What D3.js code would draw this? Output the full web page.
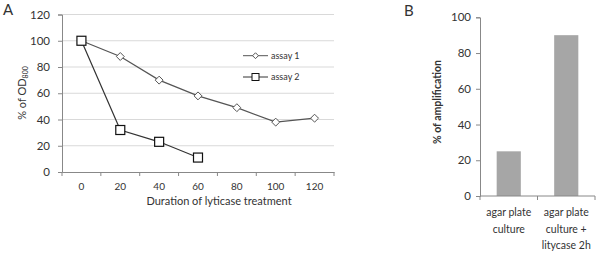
<!DOCTYPE html>
<html>
<head>
<meta charset="utf-8">
<script src="https://cdn.jsdelivr.net/npm/d3@7"></script>
<style>
	body { margin: 0; background: #fff; }
	text { font-family: Lato, "Open Sans", sans-serif; fill: #333; }
</style>
</head>
<body>
<svg id="chart" width="600" height="253"></svg>
<script>
/**
 * Data.
 */
var durations = ["0", "20", "40", "60", "80", "100", "120"];
var assay1 = [100, 88, 70, 58, 49, 38, 41];
var assay2 = [100, 32, 23, 11];
var yTicksA = [0, 20, 40, 60, 80, 100, 120];

var cultures = [["agar plate", "culture"], ["agar plate", "culture +", "litycase 2h"]];
var amplification = [25, 90];
var yTicksB = [0, 20, 40, 60, 80, 100];

var svg = d3.select("#chart");

// ---- panel A: line chart ----
{
	var x = d3.scaleBand().domain(durations).range([62, 334]);
	var y = d3.scaleLinear().domain([0, 120]).range([172, 14.5]);

	var g = svg.append("g");

	// gridlines
	g.selectAll(".grid")
		.data(yTicksA.slice(1))
		.enter().append("line")
		.attr("x1", 62).attr("x2", 334)
		.attr("y1", d => y(d)).attr("y2", d => y(d))
		.attr("stroke", "#d9d9d9").attr("stroke-width", 1);

	var yAxis = g.append("g")
		.attr("transform", "translate(62,0)")
		.call(d3.axisLeft(y).tickValues(yTicksA).tickSize(4).tickPadding(8));
	yAxis.select(".domain").attr("stroke", "#888");
	yAxis.selectAll(".tick line").attr("stroke", "#888");
	yAxis.selectAll("text").style("font-size", "11.5px");

	var xAxis = g.append("g")
		.attr("transform", "translate(0,172)")
		.call(d3.axisBottom(x).tickSize(0).tickPadding(11));
	xAxis.select(".domain").attr("stroke", "#888");
	xAxis.selectAll("text").style("font-size", "10px");
	// category boundary ticks
	xAxis.selectAll(".bnd")
		.data(durations.concat(["end"]))
		.enter().append("line")
		.attr("x1", (d, i) => 62 + i * x.bandwidth())
		.attr("x2", (d, i) => 62 + i * x.bandwidth())
		.attr("y1", 0).attr("y2", 4)
		.attr("stroke", "#888");

	var line = d3.line()
		.x((d, i) => x(durations[i]) + x.bandwidth() / 2)
		.y(d => y(d));

	g.append("path").datum(assay1)
		.attr("d", line).attr("fill", "none")
		.attr("stroke", "#555").attr("stroke-width", 1.2);
	g.append("path").datum(assay2)
		.attr("d", line).attr("fill", "none")
		.attr("stroke", "#333").attr("stroke-width", 1.2);

	var diamond = d3.symbol().type(d3.symbolDiamond2).size(40);
	g.selectAll(".m1")
		.data(assay1)
		.enter().append("path")
		.attr("d", diamond)
		.attr("transform", (d, i) => "translate(" + (x(durations[i]) + x.bandwidth() / 2) + "," + y(d) + ")")
		.attr("fill", "#fff").attr("stroke", "#555").attr("stroke-width", 1);

	g.selectAll(".m2")
		.data(assay2)
		.enter().append("rect")
		.attr("x", (d, i) => x(durations[i]) + x.bandwidth() / 2 - 4.5)
		.attr("y", d => y(d) - 4.5)
		.attr("width", 9).attr("height", 9)
		.attr("fill", "#fff").attr("stroke", "#111").attr("stroke-width", 1.2);

	// legend
	var lg = g.append("g");
	lg.append("line").attr("x1", 243).attr("x2", 268).attr("y1", 55.7).attr("y2", 55.7).attr("stroke", "#555");
	lg.append("path").attr("d", d3.symbol().type(d3.symbolDiamond2).size(22))
		.attr("transform", "translate(255.5,55.7)").attr("fill", "#fff").attr("stroke", "#555");
	lg.append("text").attr("x", 271).attr("y", 59).style("font-size", "9px").text("assay 1");
	lg.append("line").attr("x1", 243).attr("x2", 268).attr("y1", 77).attr("y2", 77).attr("stroke", "#333");
	lg.append("rect").attr("x", 252).attr("y", 73.5).attr("width", 7).attr("height", 7)
		.attr("fill", "#fff").attr("stroke", "#111");
	lg.append("text").attr("x", 271).attr("y", 80.3).style("font-size", "9px").text("assay 2");

	g.append("text")
		.attr("x", 219).attr("y", 205)
		.attr("text-anchor", "middle").style("font-size", "11px")
		.text("Duration of lyticase treatment");

	var yt = g.append("text")
		.attr("transform", "translate(26,93) rotate(-90)")
		.attr("text-anchor", "middle").style("font-size", "11px");
	yt.append("tspan").text("% of OD");
	yt.append("tspan").attr("dy", 2).style("font-size", "7px").text("800");

	g.append("text").attr("x", 3).attr("y", 14.5).style("font-size", "15px").text("A");
}

// ---- panel B: bar chart ----
{
	var xb = d3.scaleBand().domain(d3.range(cultures.length)).range([480, 595]);
	var yb = d3.scaleLinear().domain([0, 100]).range([196, 17.3]);

	var gb = svg.append("g");

	var ybAxis = gb.append("g")
		.attr("transform", "translate(480,0)")
		.call(d3.axisLeft(yb).tickValues(yTicksB).tickSize(4).tickPadding(5));
	ybAxis.select(".domain").attr("stroke", "#888");
	ybAxis.selectAll(".tick line").attr("stroke", "#888");
	ybAxis.selectAll("text").style("font-size", "11.5px");

	gb.selectAll(".bar")
		.data(amplification)
		.enter().append("rect")
		.attr("x", (d, i) => xb(i) + xb.bandwidth() * 0.29)
		.attr("width", xb.bandwidth() * 0.42)
		.attr("y", d => yb(d))
		.attr("height", d => yb(0) - yb(d))
		.attr("fill", "#a6a6a6");

	gb.append("line").attr("x1", 480).attr("x2", 595).attr("y1", 196).attr("y2", 196).attr("stroke", "#888");
	gb.selectAll(".bt")
		.data(d3.range(cultures.length + 1))
		.enter().append("line")
		.attr("x1", d => 480 + d * xb.bandwidth()).attr("x2", d => 480 + d * xb.bandwidth())
		.attr("y1", 196).attr("y2", 200).attr("stroke", "#888");

	gb.selectAll(".cl")
		.data(cultures)
		.enter().append("text")
		.attr("text-anchor", "middle").style("font-size", "10.5px")
		.each(function (d, i) {
			var t = d3.select(this);
			d.forEach(function (s, j) {
				t.append("tspan")
					.attr("x", xb(i) + xb.bandwidth() / 2)
					.attr("y", 216 + j * 16.5)
					.text(s);
			});
		});

	gb.append("text")
		.attr("transform", "translate(441,102) rotate(-90)")
		.attr("text-anchor", "middle").style("font-size", "10.5px").style("font-weight", "bold")
		.text("% of amplification");

	gb.append("text").attr("x", 404).attr("y", 16).style("font-size", "15px").text("B");
}
</script>
</body>
</html>
